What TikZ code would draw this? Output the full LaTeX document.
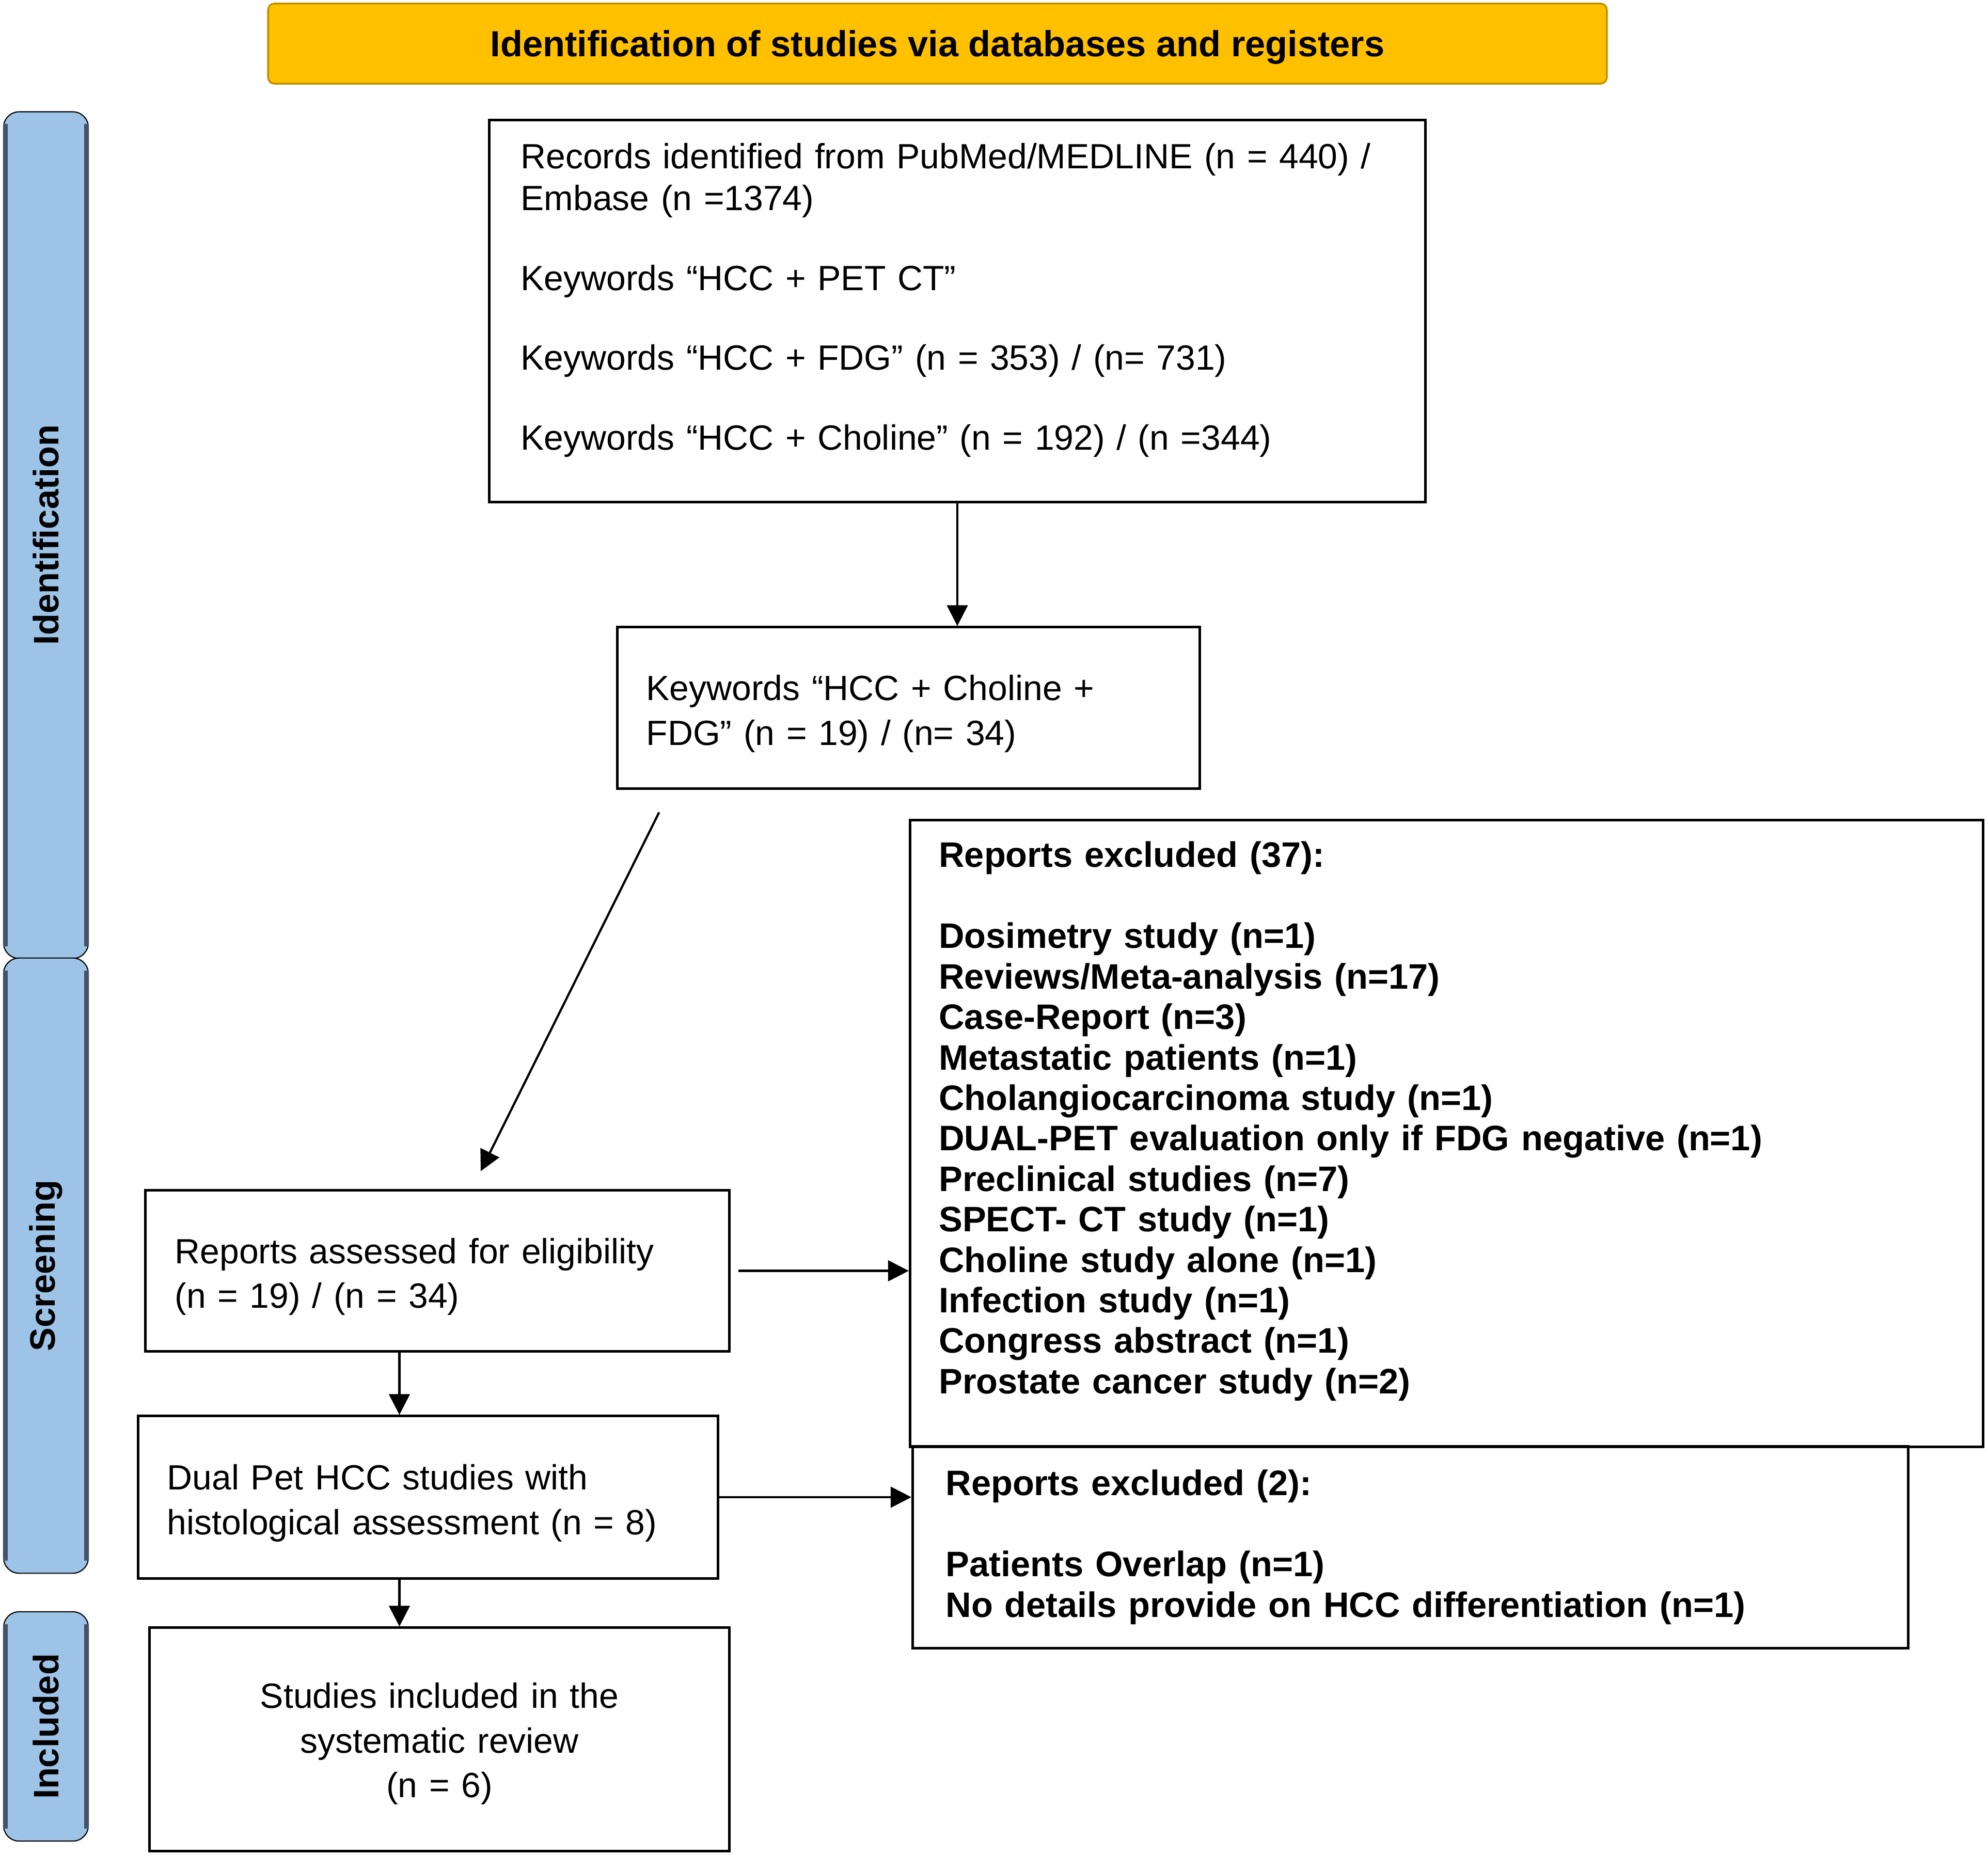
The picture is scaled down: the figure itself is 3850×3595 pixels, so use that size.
\documentclass[tikz,border=0pt]{standalone}
\usepackage{fontspec}
\usepackage{graphicx}
\setmainfont{Liberation Sans}
\usetikzlibrary{shapes, arrows.meta, positioning, calc}
\definecolor{bannergold}{HTML}{FFC000}
\definecolor{bannerrim}{HTML}{BF9000}
\definecolor{phaseblue}{HTML}{9DC3E6}
\definecolor{phaserim}{HTML}{435466}
\newcommand{\boxfont}{\fontsize{19.3}{24.5}\selectfont}
\tikzstyle{banner} = [rectangle, rounded corners=0.12cm, minimum width=25.91cm, minimum height=1.55cm, text centered, text depth=0pt, fill=bannergold, draw=bannerrim, line width=1pt, font=\bfseries\fontsize{20}{24}\selectfont]
\tikzstyle{phase} = [rectangle, rounded corners=0.3cm, minimum width=1.64cm, text centered, fill=phaseblue, draw=black, line width=0.6pt, font=\bfseries\fontsize{19.5}{23}\selectfont]
\tikzstyle{phaseedge} = [line width=0.09cm, draw=phaserim]
\tikzstyle{record} = [rectangle, draw=black, line width=1.4pt, align=left, inner sep=0pt, font=\boxfont]
\tikzstyle{excluded} = [record, font=\bfseries\fontsize{19.5}{22.3}\selectfont]
\tikzstyle{arr} = [-{Triangle[length=0.4cm, width=0.4cm]}, line width=1.2pt]

\begin{document}
\begin{tikzpicture}[x=0.01cm, y=-0.01cm]
\useasboundingbox (0,0) rectangle (3850,3595);

\node (banner) [banner] at (1815.5,84.5) {Identification of studies via databases and registers};

% phases on the left
\node (ident) [phase, minimum height=16.39cm] at (89,1036.5) {\rotatebox{90}{Identification}};
\node (screen) [phase, minimum height=11.91cm] at (89,2451.5) {\rotatebox{90}{Screening}};
\node (incl) [phase, minimum height=4.44cm] at (89,3344) {\rotatebox{90}{Included}};
\draw[phaseedge] ([xshift=0.045cm,yshift=-0.25cm]ident.north west) -- ([xshift=0.045cm,yshift=0.25cm]ident.south west);
\draw[phaseedge] ([xshift=-0.05cm,yshift=-0.25cm]ident.north east) -- ([xshift=-0.05cm,yshift=0.25cm]ident.south east);
\draw[phaseedge] ([xshift=0.045cm,yshift=-0.25cm]screen.north west) -- ([xshift=0.045cm,yshift=0.25cm]screen.south west);
\draw[phaseedge] ([xshift=-0.05cm,yshift=-0.25cm]screen.north east) -- ([xshift=-0.05cm,yshift=0.25cm]screen.south east);
\draw[phaseedge] ([xshift=0.045cm,yshift=-0.25cm]incl.north west) -- ([xshift=0.045cm,yshift=0.25cm]incl.south west);
\draw[phaseedge] ([xshift=-0.05cm,yshift=-0.25cm]incl.north east) -- ([xshift=-0.05cm,yshift=0.25cm]incl.south east);

% main column
\node (records) [record, minimum width=18.12cm, minimum height=7.39cm, text width=16.9cm, font=\fontsize{19.3}{23}\selectfont] at (1854,602.5) {Records identified from PubMed/MEDLINE (n = 440) /\\ Embase (n =1374)\\[0.74cm] Keywords “HCC + PET CT”\\[0.74cm] Keywords “HCC + FDG” (n = 353) / (n= 731)\\[0.74cm] Keywords “HCC + Choline” (n = 192) / (n =344)\rule[-0.56cm]{0pt}{0.56cm}};
\node (dual) [record, minimum width=11.27cm, minimum height=3.12cm, text width=10.15cm] at (1759.5,1371) {\rule{0pt}{0.72cm}Keywords “HCC + Choline +\\ FDG” (n = 19) / (n= 34)};
\node (assessed) [record, minimum width=11.30cm, minimum height=3.11cm, text width=10.16cm] at (847,2461.5) {\rule{0pt}{0.72cm}Reports assessed for eligibility\\ (n = 19) / (n = 34)};
\node (histo) [record, minimum width=11.22cm, minimum height=3.14cm, text width=10.10cm] at (829,2900) {\rule{0pt}{0.72cm}Dual Pet HCC studies with\\ histological assessment (n = 8)};
\node (included) [record, minimum width=11.22cm, minimum height=4.32cm, text width=10cm, align=center] at (851,3369) {\rule{0pt}{0.66cm}Studies included in the\\ systematic review\\ (n = 6)};

% exclusions
\node (excl37) [excluded, minimum width=20.77cm, minimum height=12.13cm, text width=19.65cm] at (2801.5,2195.5) {Reports excluded (37):\\[0.79cm] Dosimetry study (n=1)\\ Reviews/Meta-analysis (n=17)\\ Case-Report (n=3)\\ Metastatic patients (n=1)\\ Cholangiocarcinoma study (n=1)\\ DUAL-PET evaluation only if FDG negative (n=1)\\ Preclinical studies (n=7)\\ SPECT- CT study (n=1)\\ Choline study alone (n=1)\\ Infection study (n=1)\\ Congress abstract (n=1)\\ Prostate cancer study (n=2)\rule[-0.62cm]{0pt}{0.62cm}};
\node (excl2) [excluded, minimum width=19.27cm, minimum height=3.90cm, text width=17.99cm] at (2731.5,2997) {Reports excluded (2):\\[0.79cm] Patients Overlap (n=1)\\ No details provide on HCC differentiation (n=1)\rule[-0.15cm]{0pt}{0.15cm}};

\draw[arr] (records.south) -- (records.south |- dual.north);
\draw[arr, shorten <=0.49cm, shorten >=0.39cm] ([xshift=1.05cm]dual.south west) -- ([xshift=6.34cm]assessed.north west);
\draw[arr, shorten <=0.15cm] (assessed.east) -- (assessed.east -| excl37.west);
\draw[arr] ([xshift=4.94cm]assessed.south west) -- ([xshift=4.94cm]assessed.south west |- histo.north);
\draw[arr] (histo.east) -- (histo.east -| excl2.west);
\draw[arr] ([xshift=5.08cm]histo.south west) -- ([xshift=5.08cm]histo.south west |- included.north);
\end{tikzpicture}
\end{document}
